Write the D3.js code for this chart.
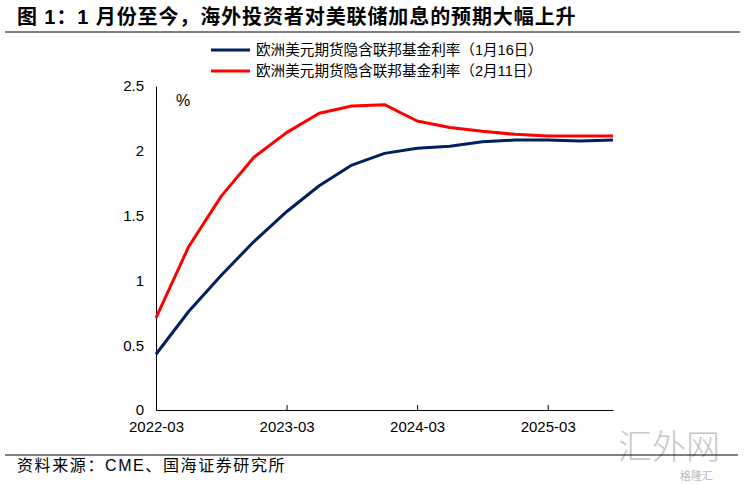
<!DOCTYPE html>
<html><head><meta charset="utf-8">
<script src="https://cdn.jsdelivr.net/npm/d3@7"></script>
<style>body{margin:0;background:#fff}svg{display:block}text{font-family:"Liberation Sans","Noto Sans CJK SC",sans-serif}</style>
</head><body>
<svg id="c" width="744" height="484"></svg>
<script>
const categories = ["2022-03","2022-06","2022-09","2022-12","2023-03","2023-06","2023-09","2023-12","2024-03","2024-06","2024-09","2024-12","2025-03","2025-06","2025-09"];
const seriesJan16 = [0.43,0.76,1.04,1.30,1.53,1.73,1.89,1.98,2.02,2.035,2.07,2.083,2.083,2.075,2.083];
const seriesFeb11 = [0.71,1.26,1.65,1.95,2.14,2.29,2.346,2.356,2.23,2.18,2.15,2.127,2.114,2.114,2.114];
const tickLabels = ["2022-03","2023-03","2024-03","2025-03"];
const yTicks = [0,0.5,1,1.5,2,2.5];
const seriesNames = ["欧洲美元期货隐含联邦基金利率（1月16日）","欧洲美元期货隐含联邦基金利率（2月11日）"];
const colors = ["#002060","#ff0000"];

const svg = d3.select("#c");
const x = d3.scalePoint().domain(categories).range([156,613]);
const y = d3.scaleLinear().domain([0,2.5]).range([410,86]);

// title
svg.append("text").attr("x",17).attr("y",24).attr("font-size",20).attr("font-weight","bold").attr("letter-spacing",0.9)
  .attr("font-family","Noto Sans CJK SC").text("图 1：1 月份至今，海外投资者对美联储加息的预期大幅上升");
svg.append("line").attr("x1",5).attr("x2",740).attr("y1",32).attr("y2",32).attr("stroke","#000").attr("stroke-width",1);

// axes
const yAxis = d3.axisLeft(y).tickValues(yTicks).tickSize(0).tickPadding(12).tickFormat(d3.format("~g"));
const gy = svg.append("g").attr("transform","translate(156,0)").call(yAxis);
gy.select(".domain").attr("stroke","#000");
gy.selectAll("text").attr("font-size",15).attr("font-family","Liberation Sans").attr("fill","#000");

const xAxis = d3.axisBottom(x).tickValues(tickLabels).tickSizeInner(-5).tickSizeOuter(0).tickPadding(8);
const gx = svg.append("g").attr("transform","translate(0,410)").call(xAxis);
gx.select(".domain").attr("stroke","#000");
gx.selectAll("text").attr("font-size",15).attr("font-family","Liberation Sans").attr("fill","#000").attr("dy","0.9em");
gx.selectAll(".tick line").filter(d=>d===categories[0]).remove();

svg.append("text").attr("x",176).attr("y",106).attr("font-size",16).attr("font-family","Liberation Sans").text("%");

const line = d3.line().x((d,i)=>x(categories[i])).y(d=>y(d));
[seriesJan16, seriesFeb11].forEach((s,k)=>{
  svg.append("path").datum(s).attr("d",line).attr("fill","none").attr("stroke",colors[k]).attr("stroke-width",3).attr("stroke-linejoin","round");
});

// legend
seriesNames.forEach((n,k)=>{
  const yy = 50 + k*21;
  svg.append("line").attr("x1",211).attr("x2",250).attr("y1",yy).attr("y2",yy).attr("stroke",colors[k]).attr("stroke-width",3);
  svg.append("text").attr("x",256).attr("y",yy+5).attr("font-size",14.6).attr("font-family","Noto Sans CJK SC").text(n);
});

// watermark
svg.append("text").attr("x",618).attr("y",459).attr("font-size",34).attr("font-weight",300).attr("fill","#c8c8c8").attr("font-family","Noto Sans CJK SC").text("汇外网");
svg.append("text").attr("x",680).attr("y",480).attr("font-size",11).attr("fill","#bbb").attr("font-family","Noto Sans CJK SC").text("格隆汇");

// footer
svg.append("line").attr("x1",5).attr("x2",738).attr("y1",455).attr("y2",455).attr("stroke","#000").attr("stroke-width",1);
svg.append("text").attr("x",17).attr("y",471).attr("font-size",16).attr("letter-spacing",1.6).attr("font-family","Noto Sans CJK SC").text("资料来源：CME、国海证券研究所");
</script>
</body></html>
